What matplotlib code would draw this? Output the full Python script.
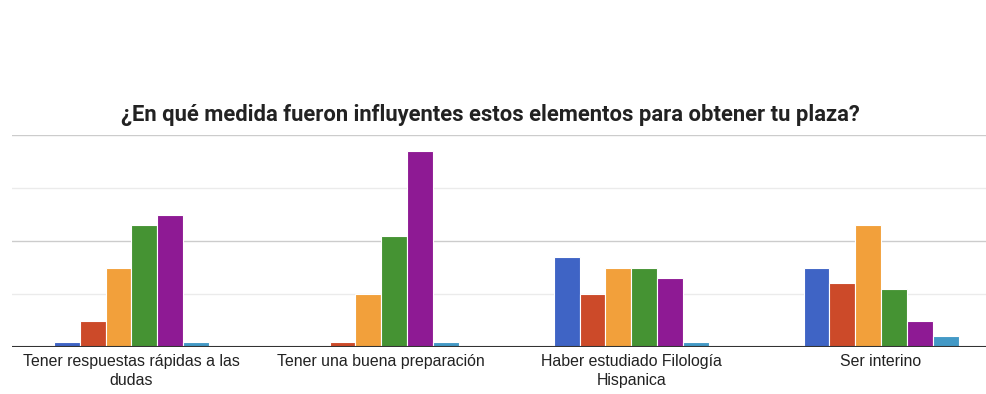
import numpy as np
import matplotlib.pyplot as plt

categorias = ["Tener respuestas rápidas a las\ndudas",
              "Tener una buena preparación",
              "Haber estudiado Filología\nHispanica",
              "Ser interino"]

# una serie por nivel de la escala
serie_1 = [1, 0, 17, 15]
serie_2 = [5, 1, 10, 12]
serie_3 = [15, 10, 15, 23]
serie_4 = [23, 21, 15, 11]
serie_5 = [25, 37, 13, 5]
serie_6 = [1, 1, 1, 2]

series = [serie_1, serie_2, serie_3, serie_4, serie_5, serie_6]
colores = ["#3f64c5", "#cc4a29", "#f2a03b", "#459333", "#8e1a94", "#4399c6"]

fig = plt.figure(figsize=(9.86, 3.94), dpi=100)
ax = fig.add_axes([12 / 986, 47 / 394, 974 / 986, 212 / 394])

x = np.arange(len(categorias))
ancho = 0.62 / len(series)
for i, (vals, col) in enumerate(zip(series, colores)):
    offs = (i - (len(series) - 1) / 2) * ancho
    ax.bar(x + offs, vals, ancho, color=col, edgecolor="white", linewidth=0.8, zorder=3)

ax.set_xlim(-0.478, 3.42)
ax.set_ylim(0, 40)

for y in [10, 30]:
    ax.axhline(y, color="#ebebeb", linewidth=1, zorder=1)
for y in [20, 40]:
    ax.axhline(y, color="#cccccc", linewidth=1, zorder=1)
ax.axhline(0, color="#333333", linewidth=1.5, zorder=4)

for s in ax.spines.values():
    s.set_visible(False)
ax.set_yticks([])
ax.set_xticks(x)
ax.set_xticklabels(categorias, fontsize=11.4, color="#222222", family="Liberation Sans",
                   linespacing=1.3)
ax.tick_params(axis="x", length=0, pad=5)

fig.text(490, 394 - 115, "¿En qué medida fueron influyentes estos elementos para obtener tu plaza?",
         transform=None, ha="center", va="center", fontsize=15.8, fontweight="bold",
         family="Roboto", color="#222222")

plt.savefig("out.png", dpi=100)
